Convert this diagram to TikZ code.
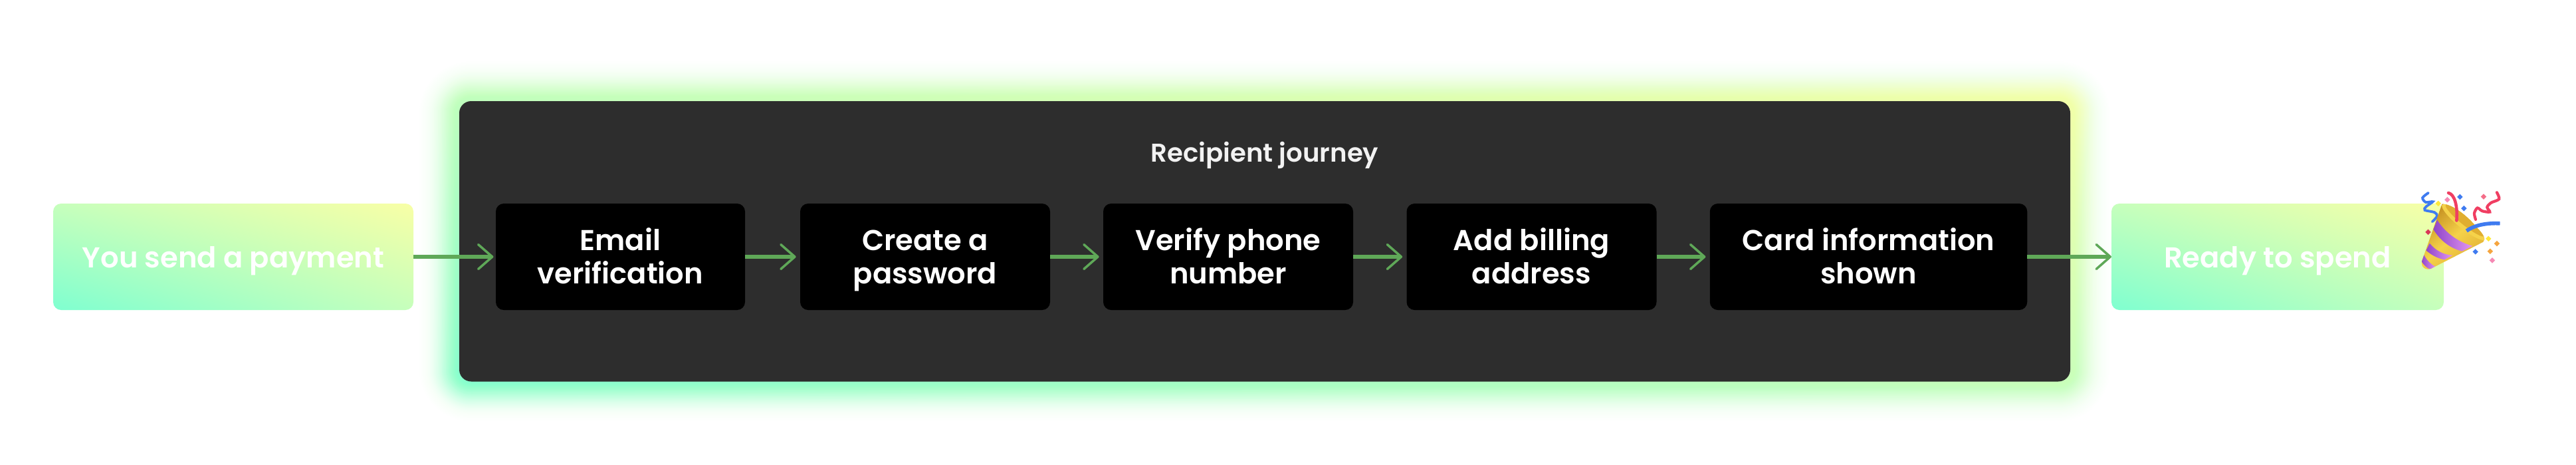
\documentclass[tikz,border=0pt]{standalone}
\usepackage{fontspec}
\setmainfont{Poppins}[UprightFont=*-SemiBold]
\usetikzlibrary{arrows.meta,shadings}
\definecolor{mint}{HTML}{7FFFD0}
\definecolor{lemon}{HTML}{F8FFA6}
\definecolor{midgreen}{HTML}{C6FFBC}
\definecolor{panelgrey}{HTML}{2D2D2D}
\definecolor{arrowgreen}{HTML}{5FA858}
\definecolor{goldcone}{HTML}{E0AE30}
\definecolor{golddark}{HTML}{C48E20}
\definecolor{goldlight}{HTML}{F5D24A}
\definecolor{purpleband}{HTML}{8F45C8}
\definecolor{purplelight}{HTML}{E296F2}
\definecolor{ribbonred}{HTML}{F03E62}
\definecolor{ribbonblue}{HTML}{3F7BF0}
\definecolor{bitpink}{HTML}{F58AB5}
\definecolor{bitorange}{HTML}{F5A540}
\definecolor{bityellow}{HTML}{FFE93B}
\tikzset{
	gradfill/.style={shading=bilinear interpolation, lower left=mint, upper right=lemon,
		upper left=midgreen, lower right=midgreen},
	boxtext/.style={rounded corners=0.12cm, minimum height=1.6cm, inner sep=0pt, outer sep=0pt,
		text=white, font=\fontsize{12.3}{14.2}\selectfont, align=center, text depth=0pt},
	gradbox/.style={gradfill, boxtext, text height=9.1pt},
	stepbox/.style={fill=black, boxtext, text height=22.8pt},
	flowarrow/.style={arrowgreen, line width=1.6pt,
		-{Straight Barb[length=6pt,width=10.5pt,line width=1pt,round]}},
	confetti/.style={rotate=45, inner sep=0pt, minimum size=1.7pt, outer sep=0pt},
	bandshade/.style={left color=purpleband, right color=purplelight}
}
\begin{document}
\begin{tikzpicture}[x=1cm,y=-1cm]
	\useasboundingbox (0,0) rectangle (38.76,6.98);
	\fill[white] (0,0) rectangle (38.76,6.98);

	\foreach \g in {0.02,0.04,...,0.6} {
		\pgfmathsetmacro{\glowalpha}{0.004+0.2*(1-\g/0.6)^2}
		\pgfmathsetmacro{\glowround}{0.18+\g}
		\path[gradfill, opacity=\glowalpha, rounded corners=\glowround cm] (6.91-\g,1.52-\g) rectangle (31.15+\g,5.735+\g);
	}

	\node[fill=panelgrey, rounded corners=0.18cm, minimum width=24.24cm, minimum height=4.215cm,
		inner sep=0pt, outer sep=0pt] (journeypanel) at (19.03,3.6275) {};
	\node[text=white!95!black, font=\fontsize{11}{12}\selectfont] (journeytitle) at (19.03,2.33) {Recipient journey};

	\node[gradbox, minimum width=5.42cm] (sendbox) at (3.51,3.86) {You send a payment};
	\node[stepbox, minimum width=3.75cm] (emailbox) at (9.335,3.86) {Email\\verification};
	\node[stepbox, minimum width=3.76cm] (passwordbox) at (13.92,3.86) {Create a\\password};
	\node[stepbox, minimum width=3.76cm] (phonebox) at (18.48,3.86) {Verify phone\\number};
	\node[stepbox, minimum width=3.76cm] (addressbox) at (23.045,3.86) {Add billing\\address};
	\node[stepbox, minimum width=4.775cm] (cardbox) at (28.115,3.86) {Card information\\shown};
	\node[gradbox, minimum width=5.0cm] (readybox) at (34.27,3.86) {Ready to spend};

	\draw[flowarrow, shorten >=1pt] (sendbox) -- (emailbox);
	\draw[flowarrow, shorten >=1.8pt] (emailbox) -- (passwordbox);
	\draw[flowarrow, shorten >=1.8pt] (passwordbox) -- (phonebox);
	\draw[flowarrow, shorten >=1.8pt] (phonebox) -- (addressbox);
	\draw[flowarrow, shorten >=1.8pt] (addressbox) -- (cardbox);
	\draw[flowarrow] (cardbox) -- (readybox);

	\begin{scope}[shift={(35.5,2.6)},x=0.0033333cm,y=-0.0033333cm]
		\draw[ribbonblue, line width=1.1pt, line cap=round] plot[smooth] coordinates
			{(312,90) (286,112) (300,132) (332,130) (302,152) (296,168) (340,178) (352,195) (330,220)};
		\draw[ribbonred, line width=1.2pt, line cap=round] plot[smooth] coordinates
			{(622,88) (632,118) (595,135) (578,155) (590,176) (556,172) (534,158) (520,182) (526,210)};
		\foreach \px/\py/\tint in {357/138/bityellow, 398/121/bitpink, 455/108/ribbonblue,
			473/160/ribbonblue, 562/107/ribbonred!75!white, 311/267/ribbonred!90!black, 584/297/bityellow,
			622/319/bitorange, 592/354/bitorange, 525/356/ribbonblue, 601/395/bitpink}
			\node[confetti, fill=\tint] (bit\px) at (\px,\py) {};
		\shade[left color=golddark, right color=goldcone, middle color=goldlight, shading angle=40]
			(374,140) -- (283,398) .. controls (276,425) and (300,442) .. (325,432) -- (560,312)
			.. controls (575,300) and (560,275) .. (530,245) .. controls (490,195) and (420,140) .. (374,140) -- cycle;
		\begin{scope}
			\clip (374,140) -- (283,398) .. controls (276,425) and (300,442) .. (325,432) -- (560,312)
				.. controls (575,300) and (560,275) .. (530,245) .. controls (490,195) and (420,140) .. (374,140) -- cycle;
			\shade[bandshade] (352,212) .. controls (385,265) and (440,310) .. (512,330) -- (465,354)
				.. controls (410,340) and (365,305) .. (335,255) -- cycle;
			\shade[bandshade] (318,318) .. controls (345,350) and (380,370) .. (422,372) -- (385,392)
				.. controls (350,385) and (325,370) .. (302,350) -- cycle;
			\shade[bandshade] (292,370) .. controls (305,395) and (325,415) .. (348,425) -- (322,436)
				.. controls (305,430) and (290,415) .. (280,398) -- cycle;
			\fill[goldlight, rotate around={-39:(472,222)}] (472,222) ellipse (125 and 28);
			\fill[goldcone, rotate around={-39:(478,215)}] (478,215) ellipse (112 and 20);
		\end{scope}
		\draw[ribbonred, line width=1.3pt, line cap=round] (403,90) .. controls (432,98) and (445,150) .. (440,215);
		\draw[ribbonblue, line width=1.6pt] (485,262) .. controls (520,235) and (580,225) .. (636,228);
	\end{scope}
\end{tikzpicture}
\end{document}
